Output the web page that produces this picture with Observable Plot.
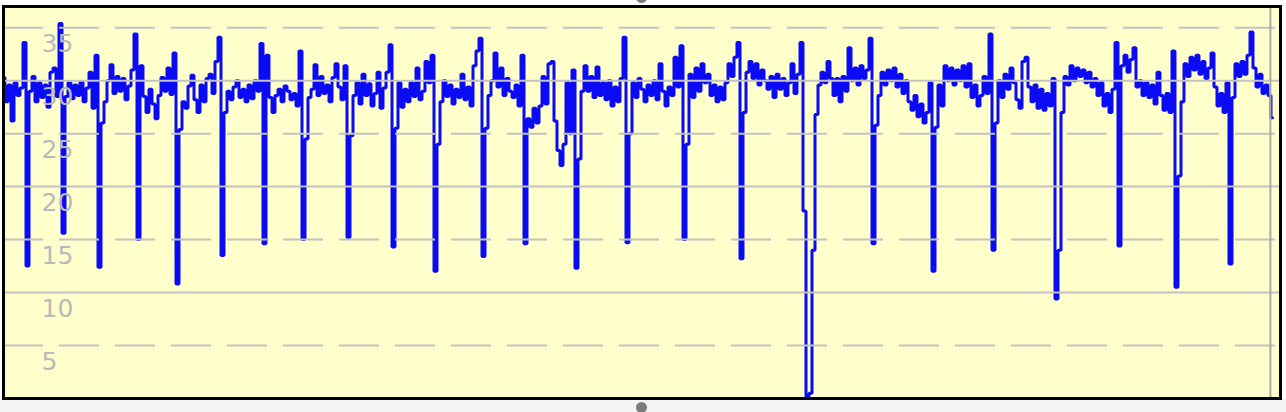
<!DOCTYPE html>
<html>
<head>
<meta charset="utf-8">
<script src="https://cdn.jsdelivr.net/npm/d3@7"></script>
<script src="https://cdn.jsdelivr.net/npm/@observablehq/plot@0.6"></script>
<style>
  html, body { margin: 0; padding: 0; }
  body {
    width: 1286px; height: 412px; overflow: hidden; position: relative;
    background: linear-gradient(to bottom, #ffffff 0px, #ffffff 399px, #f3f3f3 399px);
    font-family: "DejaVu Sans", sans-serif;
  }
  #chart { position: absolute; left: 0; top: 0; }
  #chart svg { background: transparent; display: block; }
  .handle { position: absolute; width: 11px; height: 11px; border-radius: 50%; background: #7c7c7c; }
</style>
</head>
<body>
<div id="chart"></div>
<div class="handle" style="left:636px; top:-8px;"></div>
<div class="handle" style="left:636px; top:402px;"></div>
<script>
// Series values, one sample per time step
const values = [
  30.3, 28.0, 29.6, 26.2, 29.8, 28.6, 29.3, 33.6, 12.5, 29.0,
  30.4, 28.0, 29.8, 28.4, 29.6, 27.5, 30.8, 31.2, 28.5, 35.4,
  15.6, 28.5, 29.8, 28.3, 29.6, 28.6, 29.9, 28.0, 29.3, 30.8,
  27.4, 32.4, 12.4, 26.0, 28.0, 30.0, 31.5, 28.8, 30.4, 29.0,
  30.2, 28.2, 29.5, 31.0, 34.4, 15.0, 31.4, 28.5, 27.0, 29.2,
  27.8, 26.4, 28.6, 30.3, 29.0, 31.2, 28.7, 32.6, 10.8, 25.4,
  28.0, 27.4, 29.5, 30.5, 28.2, 27.0, 29.6, 28.0, 30.2, 30.6,
  28.8, 31.8, 34.1, 13.5, 27.0, 29.0, 28.2, 29.4, 30.0, 28.4,
  29.2, 28.0, 29.6, 28.3, 30.0, 29.0, 33.5, 14.6, 32.4, 28.4,
  27.0, 28.6, 29.2, 28.0, 29.5, 29.0, 28.2, 28.8, 27.6, 32.8,
  15.0, 24.5, 28.4, 29.2, 31.5, 28.6, 30.4, 28.8, 29.6, 28.0,
  30.3, 31.6, 29.4, 28.2, 31.4, 15.2, 24.8, 28.6, 29.8, 27.8,
  30.6, 28.6, 29.7, 27.6, 28.8, 30.8, 27.4, 29.3, 30.8, 33.4,
  14.3, 25.5, 29.8, 27.5, 29.2, 28.0, 29.8, 28.5, 31.2, 28.2,
  29.0, 31.8, 29.8, 32.4, 12.0, 24.0, 28.0, 30.0, 28.5, 29.6,
  27.8, 29.2, 28.4, 30.6, 28.2, 29.4, 27.6, 31.4, 32.8, 34.0,
  13.4, 25.5, 28.6, 30.0, 32.6, 29.4, 31.2, 28.6, 30.2, 29.0,
  28.4, 29.6, 27.6, 32.4, 14.6, 26.4, 25.6, 27.4, 26.0, 27.6,
  30.4, 27.8, 31.6, 31.8, 26.2, 23.4, 22.0, 24.0, 29.8, 25.0,
  31.0, 12.3, 22.6, 29.0, 31.4, 29.0, 30.4, 28.4, 31.3, 28.6,
  29.8, 28.2, 30.0, 27.6, 29.4, 28.0, 30.2, 34.1, 14.7, 25.0,
  29.8, 28.4, 30.2, 29.2, 28.0, 29.6, 28.6, 30.0, 28.2, 31.6,
  29.0, 27.6, 29.4, 28.6, 32.2, 29.4, 33.3, 15.0, 24.0, 30.6,
  28.4, 31.2, 29.0, 31.6, 29.8, 30.6, 28.6, 29.6, 28.0, 29.4,
  28.2, 29.8, 31.6, 30.4, 32.2, 33.6, 13.2, 27.0, 30.8, 31.8,
  30.2, 31.6, 29.6, 31.0, 30.0, 29.2, 30.4, 28.4, 30.6, 29.2,
  30.2, 28.6, 29.8, 31.6, 28.8, 30.6, 33.6, 17.7, 0.2, 0.5,
  14.0, 26.8, 29.6, 30.8, 29.8, 31.8, 30.2, 28.6, 30.2, 28.0,
  30.4, 29.0, 33.1, 30.0, 31.2, 29.6, 31.4, 30.2, 31.0, 34.0,
  14.6, 25.8, 28.6, 30.8, 29.6, 31.0, 30.0, 31.2, 29.4, 30.6,
  28.8, 30.0, 28.0, 27.2, 28.6, 26.6, 27.8, 26.0, 27.0, 29.8,
  12.0, 25.6, 29.6, 27.6, 31.4, 30.0, 31.2, 29.6, 31.0, 30.0,
  31.4, 29.4, 31.6, 28.4, 29.6, 27.6, 28.6, 30.4, 28.8, 34.4,
  14.0, 26.0, 30.0, 28.4, 30.6, 29.2, 31.2, 29.8, 28.2, 27.4,
  31.8, 32.2, 29.4, 28.0, 29.6, 27.4, 29.2, 27.2, 28.8, 27.6,
  30.2, 9.4, 14.0, 27.0, 30.4, 29.6, 31.4, 30.0, 31.2, 30.4,
  31.0, 29.8, 30.8, 29.4, 30.2, 28.6, 29.8, 27.6, 28.8, 27.0,
  29.2, 33.6, 14.4, 31.4, 32.4, 30.8, 32.0, 33.1, 29.4, 30.0,
  28.6, 29.8, 28.4, 29.6, 27.8, 30.8, 28.6, 27.2, 28.8, 27.0,
  32.8, 10.5, 21.0, 28.0, 31.6, 30.4, 32.2, 31.0, 32.4, 30.6,
  31.8, 30.2, 31.2, 32.6, 29.4, 27.6, 28.8, 27.0, 29.8, 12.7,
  28.4, 31.6, 30.4, 31.8, 30.6, 32.4, 34.6, 31.2, 29.4, 30.6,
  28.8, 29.6, 28.6, 26.5
];
// Time-step index of the vertical "current" marker
const nowMarker = 422.3;
const xEnd = 425.67;
// Grid levels and tick labels
const solidGrid = [10, 20, 30];
const dashedGrid = [5, 15, 25, 35];
const tickLabels = [35, 30, 25, 20, 15, 10, 5];
const yDomain = [0, 37];

const chart = Plot.plot({
  width: 1286,
  height: 412,
  marginLeft: 3,
  marginRight: 6,
  marginTop: 6,
  marginBottom: 14,
  style: { background: "transparent", overflow: "visible" },
  x: { domain: [0, xEnd], axis: null },
  y: { domain: yDomain, axis: null },
  marks: [
    Plot.frame({ fill: "#ffffcc", stroke: null }),
    Plot.line(values, { x: (d, i) => i, y: d => d, curve: "step", stroke: "#0a0af5", strokeWidth: 3, strokeLinejoin: "miter" }),
    Plot.ruleY(solidGrid, { y: d => d, stroke: "#c2c2c2", strokeWidth: 2 }),
    Plot.ruleY(dashedGrid, { y: d => d, stroke: "#c2c2c2", strokeWidth: 2, strokeDasharray: "40,16" }),
    Plot.ruleX([nowMarker], { x: d => d, stroke: "#a9a9a9", strokeWidth: 2 }),
    Plot.text(tickLabels, {
      y: d => d, text: d => String(d), frameAnchor: "left", dx: 38, dy: 16,
      textAnchor: "start", fill: "#b9b9b9", fontSize: 25, fontFamily: "DejaVu Sans"
    }),
    Plot.frame({ stroke: "black", strokeWidth: 3 })
  ]
});
document.getElementById("chart").appendChild(chart);
</script>
</body>
</html>
